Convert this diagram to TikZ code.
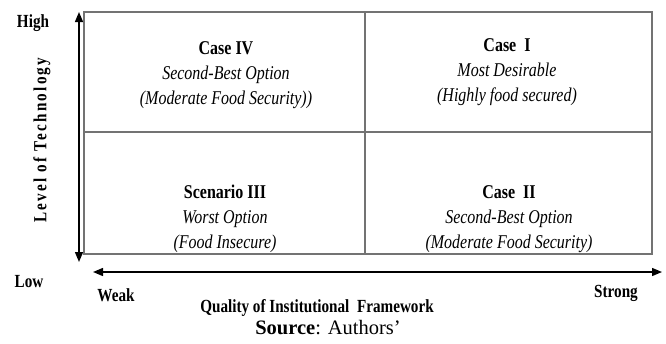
\documentclass[tikz,border=0pt]{standalone}
\usepackage{fontspec}
\setmainfont{Liberation Serif}
\newfontfamily\condfont[FakeStretch=0.82]{Liberation Serif}
\usetikzlibrary{arrows.meta}
\tikzset{
  quad/.style={draw=black!55, line width=1.3pt},
  axis/.style={{Triangle[length=10pt,width=8pt]}-{Triangle[length=10pt,width=8pt]}, line width=1.4pt},
  casetext/.style={align=center, font=\condfont\fontsize{19.5}{25}\selectfont},
  axlabel/.style={font=\condfont\bfseries\fontsize{18.5}{20}\selectfont},
}
\begin{document}
\begin{tikzpicture}[x=1pt,y=-1pt]
    \useasboundingbox (0,0) rectangle (666,343);
    % kotak empat kuadran
    \coordinate (NW) at (84,12);
    \coordinate (SE) at (652,254);
    \coordinate (M)  at (365,132);
    \draw[quad] (NW) rectangle (SE);
    \draw[quad] (M |- NW) -- (M |- SE);
    \draw[quad] (NW |- M) -- (SE |- M);

    % sumbu
    \coordinate (ytop) at (79,12);
    \coordinate (ybot) at (79,262);
    \coordinate (xleft) at (93,272);
    \coordinate (xright) at (662,272);
    \draw[axis] (ybot) -- (ytop);
    \draw[axis] (xleft) -- (xright);

    % label sumbu
    \node[axlabel] (high) at (33,23) {High};
    \node[axlabel] (low) at (29,282) {Low};
    \node[axlabel] (weak) at (116,295) {Weak};
    \node[axlabel] (strong) at (616,293) {Strong};
    \node[axlabel, rotate=90] (tech) at (42,140)
      {\addfontfeature{LetterSpace=12}Level of Technology};
    \node[axlabel] (qual) at (317,308) {Quality of Institutional\ \ Framework};
    \node[font=\fontsize{20.5}{22}\selectfont] (src) at (328,328) {\textbf{Source}: Authors’};

    % isi kuadran
    \node[casetext] (c4) at (226,75)
      {\textbf{Case IV}\\ \textit{Second-Best Option}\\ \textit{(Moderate Food Security))}};
    \node[casetext] (c1) at (507,72)
      {\textbf{Case\ \ I}\\ \textit{Most Desirable}\\ \textit{(Highly food secured)}};
    \node[casetext] (c3) at (225,219)
      {\textbf{Scenario III}\\ \textit{Worst Option}\\ \textit{(Food Insecure)}};
    \node[casetext] (c2) at (509,219)
      {\textbf{Case\ \ II}\\ \textit{Second-Best Option}\\ \textit{(Moderate Food Security)}};
\end{tikzpicture}
\end{document}
